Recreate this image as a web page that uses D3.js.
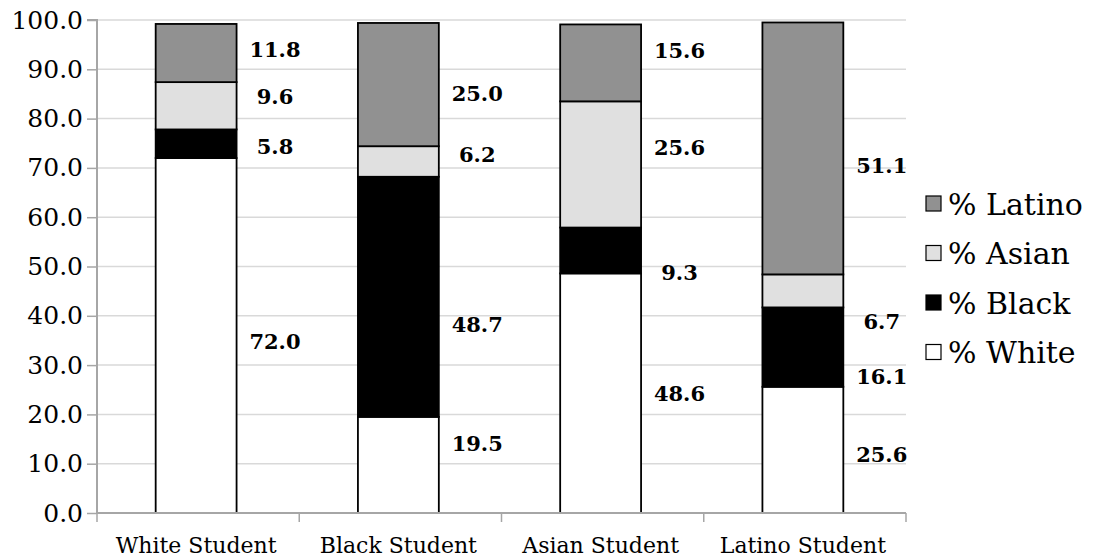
<!DOCTYPE html>
<html>
<head>
<meta charset="utf-8">
<script src="https://cdn.jsdelivr.net/npm/d3@7"></script>
<style>
  html, body { margin: 0; padding: 0; background: #fff; }
  svg { display: block; }
</style>
</head>
<body>
<svg id="chart" width="1105" height="559"></svg>
<script>
// Student groups along the x axis
const categories = ["White Student", "Black Student", "Asian Student", "Latino Student"];

// Stacked series, bottom to top
const seriesNames = ["% White", "% Black", "% Asian", "% Latino"];
const pctWhite  = [72.0, 19.5, 48.6, 25.6];
const pctBlack  = [5.8, 48.7, 9.3, 16.1];
const pctAsian  = [9.6, 6.2, 25.6, 6.7];
const pctLatino = [11.8, 25.0, 15.6, 51.1];

// Y axis ticks
const yTicks = [0, 10, 20, 30, 40, 50, 60, 70, 80, 90, 100];

// Nudges for value labels, in percentage points from each segment's middle
const labelNudge = [
  [-1.1, -0.5, 1.8, 0.8],
  [4.4, -5.7, 1.5, -1.7],
  [0.0, -4.5, 3.5, 2.6],
  [-1.0, -6.0, -6.1, -3.4]
];

const fills = { "% White": "#ffffff", "% Black": "#000000", "% Asian": "#e0e0e0", "% Latino": "#919191" };

const rows = categories.map((c, i) => ({
  cat: c,
  "% White": pctWhite[i],
  "% Black": pctBlack[i],
  "% Asian": pctAsian[i],
  "% Latino": pctLatino[i]
}));

const svg = d3.select("#chart");
const font = "'DejaVu Serif', 'Liberation Serif', serif";

const x0 = 97, x1 = 906, yTop = 20, yBot = 513;

const x = d3.scaleBand().domain(categories).range([x0, x1])
  .paddingInner(0.6).paddingOuter(0.3);
const y = d3.scaleLinear().domain([0, 100]).range([yBot, yTop]);

// Horizontal gridlines
svg.append("g").selectAll("line").data(yTicks.filter(t => t > 0)).join("line")
  .attr("x1", x0).attr("x2", x1)
  .attr("y1", d => y(d)).attr("y2", d => y(d))
  .attr("stroke", "#d9d9d9").attr("stroke-width", 1.5);

// Y axis
const yAxis = svg.append("g").attr("transform", `translate(${x0},0)`)
  .call(d3.axisLeft(y).tickValues(yTicks).tickFormat(d3.format(".1f")).tickSize(10).tickPadding(4));
yAxis.select(".domain").attr("stroke", "#a6a6a6").attr("stroke-width", 2).attr("d", `M-10,${yTop}H0V${yBot}`);
yAxis.selectAll(".tick line").attr("stroke", "#a6a6a6").attr("stroke-width", 1.5);
yAxis.selectAll(".tick text").attr("font-family", font).attr("font-size", 25).attr("fill", "#000");

// Stacked bars
const stack = d3.stack().keys(seriesNames);
const layers = stack(rows);

svg.append("g").selectAll("g").data(layers).join("g")
  .attr("fill", d => fills[d.key])
  .selectAll("rect").data(d => d).join("rect")
  .attr("x", d => x(d.data.cat) - 2)
  .attr("width", x.bandwidth())
  .attr("y", d => y(d[1]))
  .attr("height", d => y(d[0]) - y(d[1]))
  .attr("stroke", "#000").attr("stroke-width", 1.8);

// X axis baseline with ticks at category boundaries
const step = x.step();
svg.append("line").attr("x1", x0).attr("x2", x1).attr("y1", yBot).attr("y2", yBot)
  .attr("stroke", "#a6a6a6").attr("stroke-width", 2);
svg.append("g").selectAll("line").data(d3.range(categories.length + 1)).join("line")
  .attr("x1", i => x0 + i * step).attr("x2", i => x0 + i * step)
  .attr("y1", yBot).attr("y2", yBot + 9)
  .attr("stroke", "#a6a6a6").attr("stroke-width", 1.5);

// Category labels
svg.append("g").selectAll("text").data(categories).join("text")
  .attr("x", d => x(d) + x.bandwidth() / 2 - 2)
  .attr("y", yBot + 40)
  .attr("text-anchor", "middle")
  .attr("font-family", font).attr("font-size", 22)
  .text(d => d);

// Value labels beside each segment
const labels = [];
layers.forEach((layer, si) => {
  layer.forEach((seg, ci) => {
    labels.push({
      cx: x(seg.data.cat) + x.bandwidth() / 2 + step * 0.38,
      v: (seg[0] + seg[1]) / 2 + labelNudge[ci][si],
      text: d3.format(".1f")(seg[1] - seg[0])
    });
  });
});
svg.append("g").selectAll("text").data(labels).join("text")
  .attr("x", d => d.cx)
  .attr("y", d => y(d.v))
  .attr("dy", "0.36em")
  .attr("text-anchor", "middle")
  .attr("font-family", font).attr("font-size", 21).attr("font-weight", "bold")
  .text(d => d.text);

// Legend, top series first
const legendKeys = seriesNames.slice().reverse();
const legend = svg.append("g").selectAll("g").data(legendKeys).join("g")
  .attr("transform", (d, i) => `translate(926,${204 + i * 49.5})`);
legend.append("rect")
  .attr("x", 0).attr("y", -8).attr("width", 15).attr("height", 15)
  .attr("fill", d => fills[d]).attr("stroke", "#000").attr("stroke-width", 1.2);
legend.append("text")
  .attr("x", 22).attr("y", 0).attr("dy", "0.36em")
  .attr("font-family", font).attr("font-size", 30)
  .text(d => d);
</script>
</body>
</html>
